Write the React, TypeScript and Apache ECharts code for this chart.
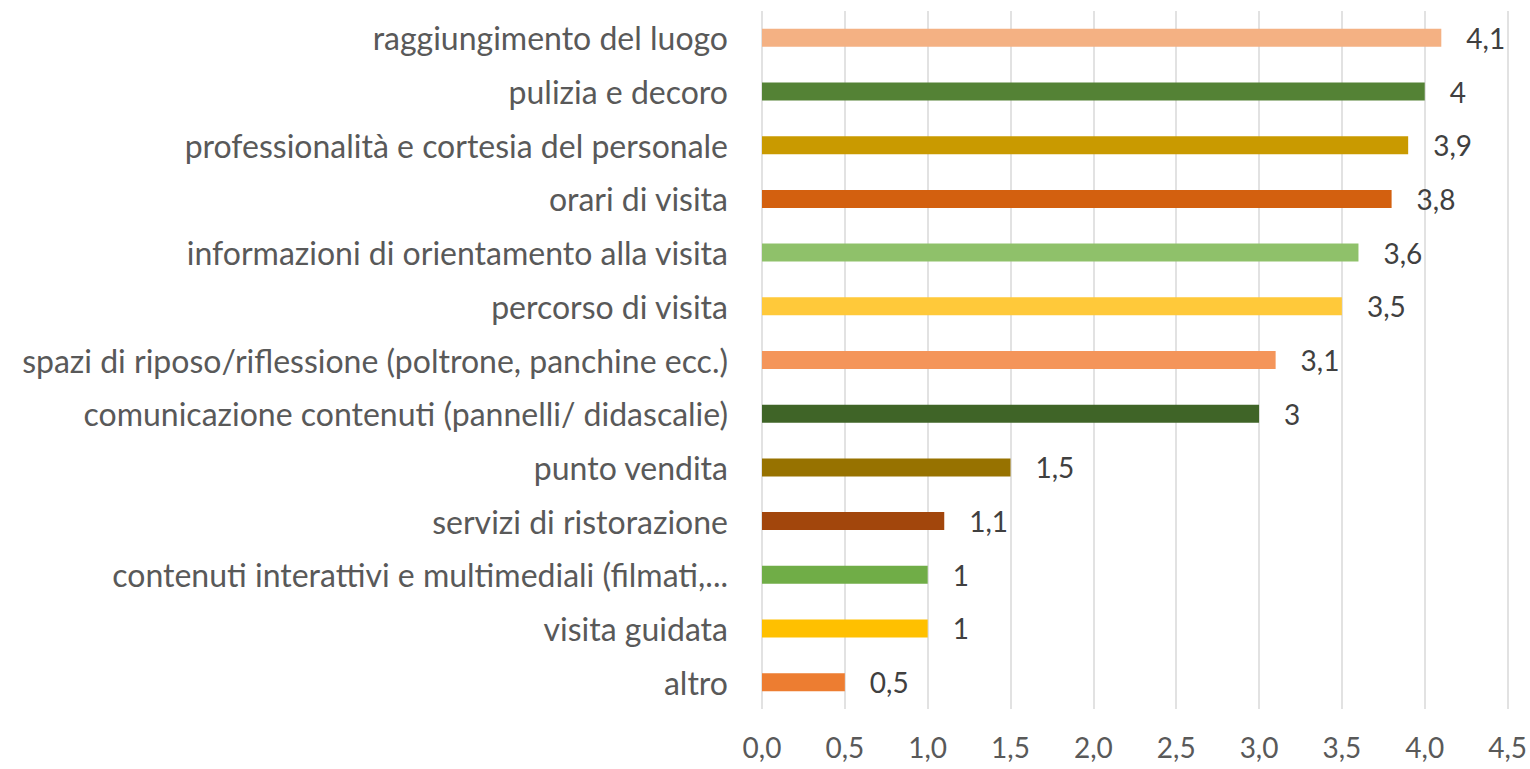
import React, { useEffect, useRef } from "react";
import * as echarts from "echarts";

const categories = [
  "raggiungimento del luogo",
  "pulizia e decoro",
  "professionalità e cortesia del personale",
  "orari di visita",
  "informazioni di orientamento alla visita",
  "percorso di visita",
  "spazi di riposo/riflessione (poltrone, panchine ecc.)",
  "comunicazione contenuti (pannelli/ didascalie)",
  "punto vendita",
  "servizi di ristorazione",
  "contenuti interattivi e multimediali (filmati,...",
  "visita guidata",
  "altro",
];
const values = [4.1, 4.0, 3.9, 3.8, 3.6, 3.5, 3.1, 3.0, 1.5, 1.1, 1.0, 1.0, 0.5];
const barColors = [
  "#F4B183", "#548235", "#C99A00", "#D3600F", "#8FC16A", "#FFC93A", "#F4955A",
  "#3F6427", "#977200", "#A2460C", "#70AD47", "#FFC000", "#ED7D31",
];
const xTicks = ["0,0", "0,5", "1,0", "1,5", "2,0", "2,5", "3,0", "3,5", "4,0", "4,5"];

export default function App() {
  const ref = useRef<HTMLDivElement>(null);
  useEffect(() => {
    if (!ref.current) return;
    const chart = echarts.init(ref.current, undefined, { renderer: "svg" });
    const font = "Lato";
    chart.setOption({
      animation: false,
      backgroundColor: "#ffffff",
      grid: { left: 762, right: 22, top: 11, bottom: 60, containLabel: false },
      xAxis: {
        type: "value",
        min: 0,
        max: 4.5,
        interval: 0.5,
        axisLine: { show: false },
        axisTick: { show: false },
        splitLine: { show: true, lineStyle: { color: "#D9D9D9", width: 1.5 } },
        axisLabel: {
          margin: 24,
          fontFamily: font,
          fontSize: 28,
          color: "#595959",
          formatter: (v: number) => xTicks[Math.round(v / 0.5)] ?? "",
        },
      },
      yAxis: {
        type: "category",
        inverse: true,
        data: categories,
        axisLine: { show: false },
        axisTick: { show: false },
        axisLabel: {
          margin: 34,
          fontFamily: font,
          fontSize: 32,
          color: "#595959",
        },
      },
      series: [
        {
          type: "bar",
          barWidth: 18,
          data: values.map((v, i) => ({ value: v, itemStyle: { color: barColors[i] } })),
          label: {
            show: true,
            position: "right",
            distance: 25,
            fontFamily: font,
            fontSize: 28,
            color: "#404040",
            formatter: (p: any) => String(p.value).replace(".", ","),
          },
        },
      ],
    });
    return () => chart.dispose();
  }, []);
  return (
    <div
      ref={ref}
      style={{ position: "absolute", left: 0, top: 0, width: 1530, height: 769 }}
    />
  );
}
